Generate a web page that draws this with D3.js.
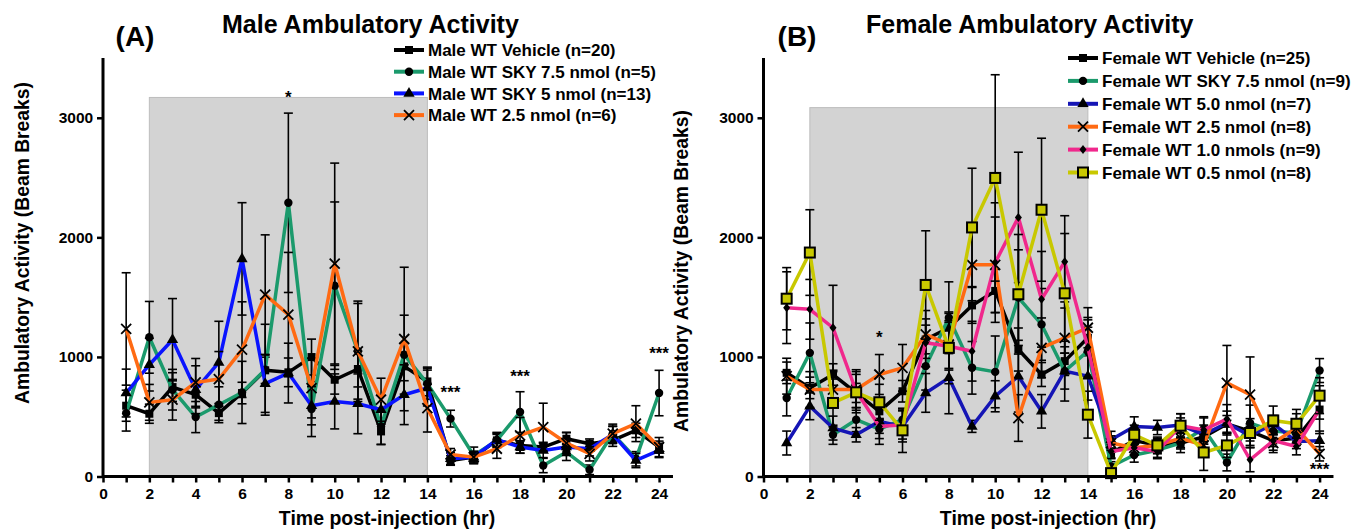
<!DOCTYPE html>
<html>
<head>
<meta charset="utf-8">
<script src="https://cdn.jsdelivr.net/npm/d3@7"></script>
<style>
  body { margin: 0; background: #fff; }
  text { font-family: "Liberation Sans", Arial, sans-serif; font-weight: bold; }
</style>
</head>
<body>
<div id="chart"></div>
<script>
// hours after injection
var hours = d3.range(1, 25);
var yTicks = [0, 1000, 2000, 3000];

// male groups (mean and SEM, beam breaks)
var maleVehicle = [592,525,748,684,530,698,888,871,999,809,899,377,921,795,134,162,302,260,246,316,274,302,386,246];
var maleVehicleSem = [130,80,120,110,60,90,110,120,150,120,150,110,120,120,40,40,50,40,40,50,40,50,60,50];
var maleSky75 = [530,1164,726,497,600,703,893,2289,564,1596,1047,419,1019,776,484,176,302,539,92,204,56,358,148,698];
var maleSky75Sem = [150,300,170,130,150,260,380,750,230,700,400,150,330,130,70,70,60,170,60,70,40,60,60,190];
var maleSky5 = [698,935,1144,726,954,1820,776,865,592,628,608,558,684,740,148,162,309,246,218,246,232,352,134,218];
var maleSky5Sem = [200,220,344,200,344,470,240,250,160,230,250,120,250,150,50,40,60,50,60,70,60,70,60,60];
var male25 = [1234,620,642,787,815,1061,1521,1354,740,1781,1047,642,1150,572,184,162,232,344,413,280,190,358,442,246];
var male25Sem = [470,150,170,200,230,400,500,520,250,840,420,180,600,200,50,50,80,150,200,90,60,80,150,80];

// female groups
var femVehicle = [867,741,853,699,545,713,1146,1244,1431,1552,1062,853,965,1160,196,300,260,280,330,440,380,300,320,560];
var femVehicleSem = [90,90,90,80,60,90,120,120,150,180,180,100,120,150,40,50,50,50,60,70,60,50,60,80];
var femSky75 = [657,1034,349,475,397,475,923,1328,909,875,1496,1272,881,1048,84,180,220,280,400,117,447,380,364,886];
var femSky75Sem = [150,250,80,100,80,90,200,300,220,300,400,300,250,200,40,60,60,80,100,70,150,80,80,100];
var fem50 = [280,587,405,349,461,419,699,825,419,671,839,545,881,839,308,419,410,430,350,447,340,440,293,300];
var fem50Sem = [100,112,100,60,100,130,162,300,50,130,300,140,150,200,70,80,60,60,80,100,80,70,60,80];
var fem25 = [839,727,727,727,853,909,1188,1104,1770,1770,489,1076,1160,1244,280,240,260,320,260,783,685,280,405,190];
var fem25Sem = [150,150,150,150,167,195,200,200,300,400,195,250,300,168,60,60,60,80,60,313,315,80,120,60];
var fem10 = [1412,1398,1244,713,419,433,1118,1090,1048,1789,2167,1482,1795,1080,209,240,209,425,390,481,140,300,251,559];
var fem10Sem = [300,250,355,180,150,120,200,200,250,500,545,400,386,250,60,60,60,100,100,120,100,80,70,200];
var fem05 = [1487,1873,615,704,621,386,1602,1076,2083,2497,1524,2231,1532,517,28,349,260,425,201,260,364,469,441,676];
var fem05Sem = [260,358,200,150,150,185,453,300,495,863,500,598,500,196,20,80,70,100,150,100,120,120,120,150];

// significance marks
var maleStars = [{h: 8, v: 3160, t: "*"}, {h: 15, v: 690, t: "***"}, {h: 18, v: 830, t: "***"}, {h: 24, v: 1020, t: "***"}];
var femStars = [{h: 5, v: 1150, t: "*"}, {h: 24, v: 50, t: "***"}];

var W = 1368, H = 531;
var svg = d3.select("#chart").append("svg").attr("width", W).attr("height", H);

function panel(opt) {
  var x = d3.scaleLinear().domain([0, 24.6]).range([opt.left, opt.left + 24.6 * 23.17]);
  var y = d3.scaleLinear().domain([0, 3500]).range([476.5, 58]);
  var g = svg.append("g");

  // dark phase shading
  g.append("rect")
    .attr("x", x(2)).attr("y", y(opt.shadeTop))
    .attr("width", x(14) - x(2)).attr("height", y(0) - y(opt.shadeTop))
    .attr("fill", "#d3d3d3").attr("stroke", "#bdbdbd").attr("stroke-width", 1);

  var line = d3.line().x(function(d) { return x(d.h); }).y(function(d) { return y(d.v); });

  opt.series.forEach(function(s) {
    var pts = hours.map(function(h, i) { return { h: h, v: s.values[i], e: s.sem[i] }; });
    // error bars
    var eb = g.append("g").attr("stroke", "#000").attr("stroke-width", 1.6);
    pts.forEach(function(d) {
      var lo = Math.max(0, d.v - d.e), hi = d.v + d.e;
      eb.append("line").attr("x1", x(d.h)).attr("x2", x(d.h)).attr("y1", y(lo)).attr("y2", y(hi));
      eb.append("line").attr("x1", x(d.h) - 4.5).attr("x2", x(d.h) + 4.5).attr("y1", y(hi)).attr("y2", y(hi));
      eb.append("line").attr("x1", x(d.h) - 4.5).attr("x2", x(d.h) + 4.5).attr("y1", y(lo)).attr("y2", y(lo));
    });
    g.append("path").datum(pts).attr("d", line)
      .attr("fill", "none").attr("stroke", s.color).attr("stroke-width", 3.5).attr("stroke-linejoin", "round");
    pts.forEach(function(d) { marker(g, s.marker, x(d.h), y(d.v)); });
  });

  // axes
  var xa = g.append("g").attr("transform", "translate(0," + y(0) + ")")
    .call(d3.axisBottom(x).tickValues(d3.range(0, 25)).tickSize(6)
      .tickFormat(function(d) { return d % 2 === 0 ? d : ""; }));
  var ya = g.append("g").attr("transform", "translate(" + x(0) + ",0)")
    .call(d3.axisLeft(y).tickValues(yTicks).tickSize(6).tickFormat(d3.format("d")));
  [xa, ya].forEach(function(a) {
    a.select(".domain").attr("stroke-width", 3).attr("stroke", "#000");
    a.selectAll(".tick line").attr("stroke-width", 2.5).attr("stroke", "#000");
    a.selectAll(".tick text").attr("font-size", 15.5).attr("fill", "#000")
      .style("font-family", "'Liberation Sans', Arial, sans-serif").style("font-weight", "bold");
  });
  xa.select(".domain").attr("d", "M" + x(0) + ",0H" + x(24.6));
  ya.select(".domain").attr("d", "M0," + y(0) + "V" + y(3500));
  xa.selectAll(".tick text").attr("dy", "0.85em");
  ya.selectAll(".tick text").attr("dx", "-0.05em");

  // stars
  opt.stars.forEach(function(s) {
    g.append("text").attr("x", x(s.h)).attr("y", y(s.v)).attr("text-anchor", "middle")
      .attr("dominant-baseline", "middle").attr("font-size", 17).text(s.t);
  });

  // labels
  g.append("text").attr("x", opt.xlabelX).attr("y", 525).attr("text-anchor", "middle")
    .attr("font-size", 19.5).text("Time post-injection (hr)");
  g.append("text").attr("transform", "translate(" + opt.ylabelX + "," + opt.ylabelY + ") rotate(-90)")
    .attr("text-anchor", "middle").attr("font-size", 19.3).text("Ambulatory Activity (Beam Breaks)");
  g.append("text").attr("x", opt.titleX).attr("y", 32.5)
    .attr("font-size", 25).text(opt.title);
  g.append("text").attr("x", opt.letterX).attr("y", 46).attr("text-anchor", "middle")
    .attr("font-size", 28).text(opt.letter);

  // legend
  opt.series.forEach(function(s, i) {
    var ly = opt.legY + i * opt.legStep;
    g.append("line").attr("x1", opt.legX).attr("x2", opt.legX + 30).attr("y1", ly).attr("y2", ly)
      .attr("stroke", s.color).attr("stroke-width", 4);
    marker(g, s.marker, opt.legX + 15, ly);
    g.append("text").attr("x", opt.legX + 34).attr("y", ly).attr("dy", "0.36em")
      .attr("font-size", 17).text(s.name);
  });
}

function marker(g, type, cx, cy) {
  if (type === "square") {
    g.append("rect").attr("x", cx - 4).attr("y", cy - 4).attr("width", 8).attr("height", 8).attr("fill", "#000");
  } else if (type === "circle") {
    g.append("circle").attr("cx", cx).attr("cy", cy).attr("r", 4.2).attr("fill", "#000");
  } else if (type === "triangle") {
    g.append("path").attr("d", d3.symbol(d3.symbolTriangle, 55)()).attr("transform", "translate(" + cx + "," + cy + ")").attr("fill", "#000");
  } else if (type === "cross") {
    g.append("path").attr("d", "M-5,-5L5,5M-5,5L5,-5").attr("transform", "translate(" + cx + "," + cy + ")")
      .attr("stroke", "#000").attr("stroke-width", 1.8).attr("fill", "none");
  } else if (type === "diamond") {
    g.append("path").attr("d", "M0,-4.5L3.5,0L0,4.5L-3.5,0Z").attr("transform", "translate(" + cx + "," + cy + ")").attr("fill", "#000");
  } else if (type === "opensquare") {
    g.append("rect").attr("x", cx - 5).attr("y", cy - 5).attr("width", 10).attr("height", 10)
      .attr("fill", "#c8c800").attr("stroke", "#000").attr("stroke-width", 2);
  }
}

panel({
  left: 103, shadeTop: 3170, title: "Male Ambulatory Activity", titleX: 222, letter: "(A)", letterX: 135,
  xlabelX: 387, ylabelX: 29, ylabelY: 243, legX: 394, legY: 50, legStep: 21.7, stars: maleStars,
  series: [
    { name: "Male WT Vehicle (n=20)", values: maleVehicle, sem: maleVehicleSem, color: "#000000", marker: "square" },
    { name: "Male WT SKY 7.5 nmol (n=5)", values: maleSky75, sem: maleSky75Sem, color: "#1b9a6c", marker: "circle" },
    { name: "Male WT SKY 5 nmol (n=13)", values: maleSky5, sem: maleSky5Sem, color: "#0a14ff", marker: "triangle" },
    { name: "Male WT 2.5 nmol (n=6)", values: male25, sem: male25Sem, color: "#ff6a13", marker: "cross" }
  ]
});

panel({
  left: 763.5, shadeTop: 3085, title: "Female Ambulatory Activity", titleX: 866, letter: "(B)", letterX: 797,
  xlabelX: 1048, ylabelX: 688, ylabelY: 271, legX: 1068, legY: 58, legStep: 22.9, stars: femStars,
  series: [
    { name: "Female WT Vehicle (n=25)", values: femVehicle, sem: femVehicleSem, color: "#000000", marker: "square" },
    { name: "Female WT SKY 7.5 nmol (n=9)", values: femSky75, sem: femSky75Sem, color: "#1b9a6c", marker: "circle" },
    { name: "Female WT 5.0 nmol (n=7)", values: fem50, sem: fem50Sem, color: "#1515b5", marker: "triangle" },
    { name: "Female WT 2.5 nmol (n=8)", values: fem25, sem: fem25Sem, color: "#ff6a13", marker: "cross" },
    { name: "Female WT 1.0 nmols (n=9)", values: fem10, sem: fem10Sem, color: "#f0288c", marker: "diamond" },
    { name: "Female WT 0.5 nmol (n=8)", values: fem05, sem: fem05Sem, color: "#c8c800", marker: "opensquare" }
  ]
});
</script>
</body>
</html>
